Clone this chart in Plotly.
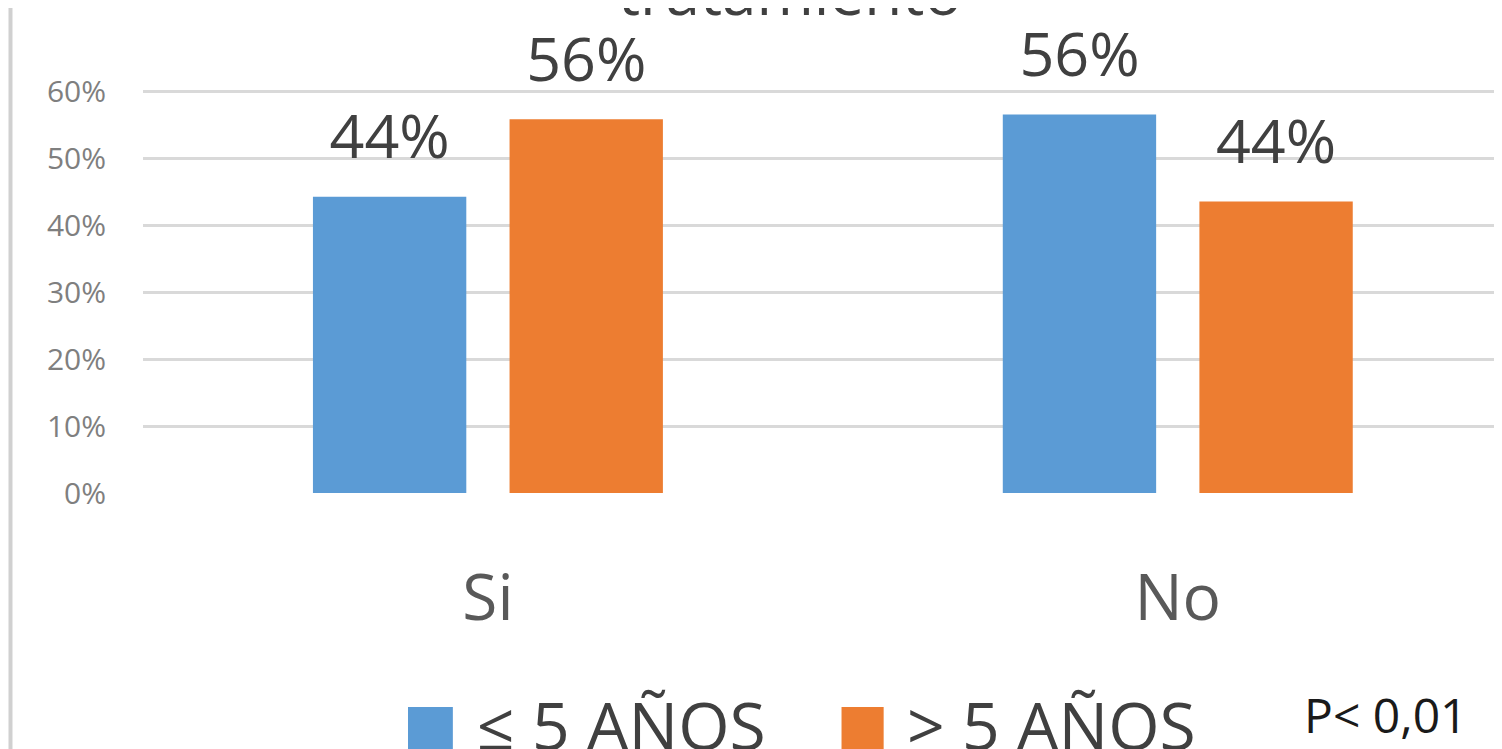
import plotly.graph_objects as go

# datos
categorias = ['Si', 'No']
grupos = ['≤ 5 AÑOS', '> 5 AÑOS']
valores_menor5 = [0.443, 0.566]
valores_mayor5 = [0.559, 0.436]
etiquetas_menor5 = ['44%', '56%']
etiquetas_mayor5 = ['56%', '44%']
colores = ['#5B9BD5', '#ED7D31']
ticks_y = [0, 0.1, 0.2, 0.3, 0.4, 0.5, 0.6]
ticks_y_txt = ['0%', '10%', '20%', '30%', '40%', '50%', '60%']
titulo = 'tratamiento'
nota_p = 'P< 0,01'

FUENTE = 'Open Sans, Noto Sans, sans-serif'

fig = go.Figure()

series = [(valores_menor5, etiquetas_menor5), (valores_mayor5, etiquetas_mayor5)]
for i, (vals, etq) in enumerate(series):
    fig.add_trace(go.Bar(
        x=categorias, y=vals, name=grupos[i],
        marker=dict(color=colores[i], line=dict(width=0)),
        offsetgroup=str(i), showlegend=False, hoverinfo='skip'
    ))
    # etiquetas de datos (marcador invisible para separar el texto de la barra)
    fig.add_trace(go.Scatter(
        x=categorias, y=vals, mode='markers+text', text=etq,
        textposition='top center', offsetgroup=str(i),
        marker=dict(size=36, opacity=0),
        textfont=dict(size=61, color='#404040', family=FUENTE),
        cliponaxis=False, showlegend=False, hoverinfo='skip'
    ))

# titulo (recortado en la parte superior)
fig.add_annotation(
    text=titulo, xref='paper', yref='paper', x=0.476, y=0.978,
    xanchor='center', yanchor='bottom', showarrow=False,
    font=dict(size=62, color='#404040', family=FUENTE)
)

# leyenda: cuadros de color + texto
cuadros_x = [(0.195, 0.228), (0.514, 0.545)]
textos_x = [0.244, 0.561]
for i, g in enumerate(grupos):
    fig.add_shape(type='rect', xref='paper', yref='paper',
                  x0=cuadros_x[i][0], x1=cuadros_x[i][1], y0=-0.6, y1=-0.457,
                  fillcolor=colores[i], line=dict(width=0))
    fig.add_annotation(
        text=g, xref='paper', yref='paper', x=textos_x[i], y=-0.394,
        xanchor='left', yanchor='top', showarrow=False,
        font=dict(size=66, color='#404040', family=FUENTE)
    )

fig.add_annotation(
    text=nota_p, xref='paper', yref='paper', x=0.8525, y=-0.40,
    xanchor='left', yanchor='top', showarrow=False,
    font=dict(size=48, color='#1a1a1a', family=FUENTE)
)

# borde izquierdo gris
fig.add_shape(type='line', xref='paper', yref='paper',
              x0=-0.0975, x1=-0.0975, y0=-0.6, y1=1.1,
              line=dict(color='#d0d0d0', width=4))

fig.update_layout(
    width=1502, height=749,
    paper_bgcolor='white', plot_bgcolor='white',
    margin=dict(l=135, r=8, t=17, b=264, autoexpand=False),
    barmode='group', bargap=0.43, bargroupgap=0.22,
    scattermode='group', scattergap=0.43,
    showlegend=False,
    font=dict(family=FUENTE)
)

fig.update_xaxes(
    range=[-0.5, 1.47], showgrid=False, zeroline=False, showline=False,
    ticks='', ticklabelstandoff=62, automargin=False,
    tickfont=dict(size=64, color='#595959', family=FUENTE)
)
fig.update_yaxes(
    range=[0, 0.7], tickvals=ticks_y, ticktext=ticks_y_txt,
    showgrid=True, gridcolor='#d9d9d9', gridwidth=2.5,
    zeroline=False, showline=False, ticks='', ticklabelstandoff=36,
    automargin=False,
    tickfont=dict(size=30, color='#7f7f7f', family=FUENTE)
)

fig.write_html('out.html')
